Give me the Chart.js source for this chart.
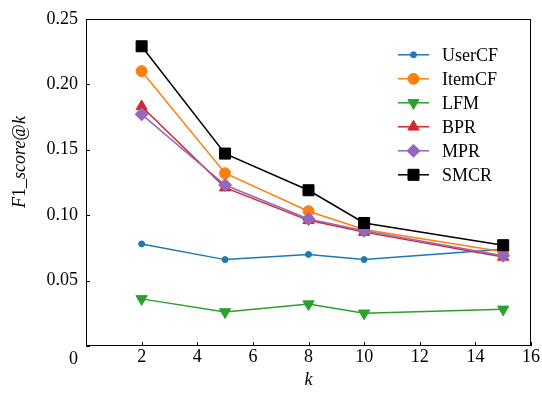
<!DOCTYPE html>
<html>
<head>
<meta charset="utf-8">
<script src="https://cdn.jsdelivr.net/npm/chart.js@4/dist/chart.umd.min.js"></script>
<style>
  html, body { margin: 0; padding: 0; background: #fff; }
  canvas { display: block; }
</style>
</head>
<body>
<canvas id="c" width="542" height="396"></canvas>
<script>
// k values (recommendation list length)
const kValues = [2, 5, 8, 10, 15];

// F1 score at k for each method
const userCF = [0.078, 0.066, 0.070, 0.066, 0.074];
const itemCF = [0.210, 0.132, 0.103, 0.089, 0.072];
const lfm    = [0.036, 0.026, 0.032, 0.025, 0.028];
const bpr    = [0.183, 0.121, 0.096, 0.087, 0.068];
const mpr    = [0.177, 0.123, 0.097, 0.088, 0.069];
const smcr   = [0.229, 0.147, 0.119, 0.094, 0.077];

const seriesNames = ['UserCF', 'ItemCF', 'LFM', 'BPR', 'MPR', 'SMCR'];

const xTicks = [0, 2, 4, 6, 8, 10, 12, 14, 16];
const yTicks = [0, 0.05, 0.10, 0.15, 0.20, 0.25];

const FONT = "'Liberation Serif', 'Times New Roman', serif";
const FS = 18;

function pts(vals) { return kValues.map((k, i) => ({ x: k, y: vals[i] })); }

const styles = [
  { color: '#1f77b4', style: 'circle',   radius: 3,   rotation: 0 },
  { color: '#ff7f0e', style: 'circle',   radius: 5.5, rotation: 0 },
  { color: '#2ca02c', style: 'triangle', radius: 6.5, rotation: 180 },
  { color: '#d62728', style: 'triangle', radius: 6.5, rotation: 0 },
  { color: '#9467bd', style: 'rectRot',  radius: 6.5, rotation: 0 },
  { color: '#000000', style: 'rect',     radius: 7.8, rotation: 0 }
];

const allValues = [userCF, itemCF, lfm, bpr, mpr, smcr];

const datasets = allValues.map((vals, i) => ({
  label: seriesNames[i],
  data: pts(vals),
  borderColor: styles[i].color,
  backgroundColor: styles[i].color,
  borderWidth: 1.5,
  pointStyle: styles[i].style,
  pointRadius: styles[i].radius,
  pointRotation: styles[i].rotation,
  pointBorderWidth: 1,
  pointBorderColor: styles[i].color,
  pointBackgroundColor: styles[i].color,
  pointHoverRadius: styles[i].radius,
  tension: 0,
  fill: false,
  order: allValues.length - 1 - i
}));

// frame, inward tick marks, corner "0", axis titles and the legend
const decor = {
  id: 'decor',
  afterDraw(chart) {
    const ctx = chart.ctx;
    const a = chart.chartArea;
    const xs = chart.scales.x, ys = chart.scales.y;
    ctx.save();
    ctx.strokeStyle = '#000';
    ctx.lineWidth = 1;
    ctx.strokeRect(Math.round(a.left) + 0.5, Math.round(a.top) + 0.5,
                   Math.round(a.right - a.left) - 1, Math.round(a.bottom - a.top) - 1);
    // inward ticks
    const tl = 4;
    xTicks.forEach(v => {
      const px = Math.round(xs.getPixelForValue(v)) + 0.5;
      ctx.beginPath(); ctx.moveTo(px, a.bottom); ctx.lineTo(px, a.bottom - tl); ctx.stroke();
    });
    yTicks.forEach(v => {
      const py = Math.round(ys.getPixelForValue(v)) + 0.5;
      ctx.beginPath(); ctx.moveTo(a.left, py); ctx.lineTo(a.left + tl, py); ctx.stroke();
    });
    // "0" at the corner
    ctx.fillStyle = '#000';
    ctx.font = FS + 'px ' + FONT;
    ctx.textAlign = 'right';
    ctx.textBaseline = 'alphabetic';
    ctx.fillText('0', a.left - 8, a.bottom + 18);
    // x title
    ctx.textAlign = 'center';
    ctx.font = 'italic ' + FS + 'px ' + FONT;
    ctx.fillText('k', (a.left + a.right) / 2, a.bottom + 39);
    // y title with mixed italic / upright parts
    const parts = [['F', true], ['1', false], ['_', false], ['score', true], ['@', false], ['k', true]];
    let total = 0;
    parts.forEach(p => {
      ctx.font = (p[1] ? 'italic ' : '') + FS + 'px ' + FONT;
      total += ctx.measureText(p[0]).width;
    });
    ctx.translate(25, 162);
    ctx.rotate(-Math.PI / 2);
    ctx.textAlign = 'left';
    let cx = -total / 2;
    parts.forEach(p => {
      ctx.font = (p[1] ? 'italic ' : '') + FS + 'px ' + FONT;
      ctx.fillText(p[0], cx, 0);
      cx += ctx.measureText(p[0]).width;
    });
    ctx.setTransform(1, 0, 0, 1, 0, 0);
    // legend
    const lx0 = a.right - 133, lx1 = a.right - 102, tx = a.right - 89;
    const ly0 = a.top + 36, dy = 24;
    chart.data.datasets.forEach((ds, i) => {
      const y = ly0 + i * dy;
      ctx.strokeStyle = ds.borderColor;
      ctx.lineWidth = 1.5;
      ctx.beginPath(); ctx.moveTo(lx0, y); ctx.lineTo(lx1, y); ctx.stroke();
      ctx.fillStyle = ds.pointBackgroundColor;
      ctx.lineWidth = 1;
      Chart.helpers.drawPoint(ctx, {
        pointStyle: ds.pointStyle, radius: ds.pointRadius,
        rotation: ds.pointRotation, borderWidth: 1
      }, (lx0 + lx1) / 2, y);
      ctx.fillStyle = '#000';
      ctx.font = FS + 'px ' + FONT;
      ctx.textAlign = 'left';
      ctx.textBaseline = 'middle';
      ctx.fillText(ds.label, tx, y + 1);
    });
    ctx.restore();
  }
};

new Chart(document.getElementById('c'), {
  type: 'line',
  data: { datasets },
  options: {
    responsive: false,
    animation: false,
    devicePixelRatio: 1,
    layout: { padding: { left: 0, top: 17, right: 11, bottom: 0 } },
    plugins: { legend: { display: false }, tooltip: { enabled: false } },
    scales: {
      x: {
        type: 'linear', min: 0, max: 16,
        afterFit(s) { s.height = 50; },
        afterBuildTicks(s) { s.ticks = xTicks.map(v => ({ value: v })); },
        grid: { display: false, drawTicks: false },
        border: { display: false },
        ticks: {
          padding: 0, color: '#000', font: { family: FONT, size: FS },
          maxRotation: 0, autoSkip: false,
          callback: v => (v === 0 ? '' : String(v))
        }
      },
      y: {
        type: 'linear', min: 0, max: 0.25,
        afterFit(s) { s.width = 86; },
        afterBuildTicks(s) { s.ticks = yTicks.map(v => ({ value: v })); },
        grid: { display: false, drawTicks: false },
        border: { display: false },
        ticks: {
          padding: 8, color: '#000', font: { family: FONT, size: FS },
          autoSkip: false,
          callback: v => (v === 0 ? '' : v.toFixed(2))
        }
      }
    }
  },
  plugins: [decor]
});
</script>
</body>
</html>
